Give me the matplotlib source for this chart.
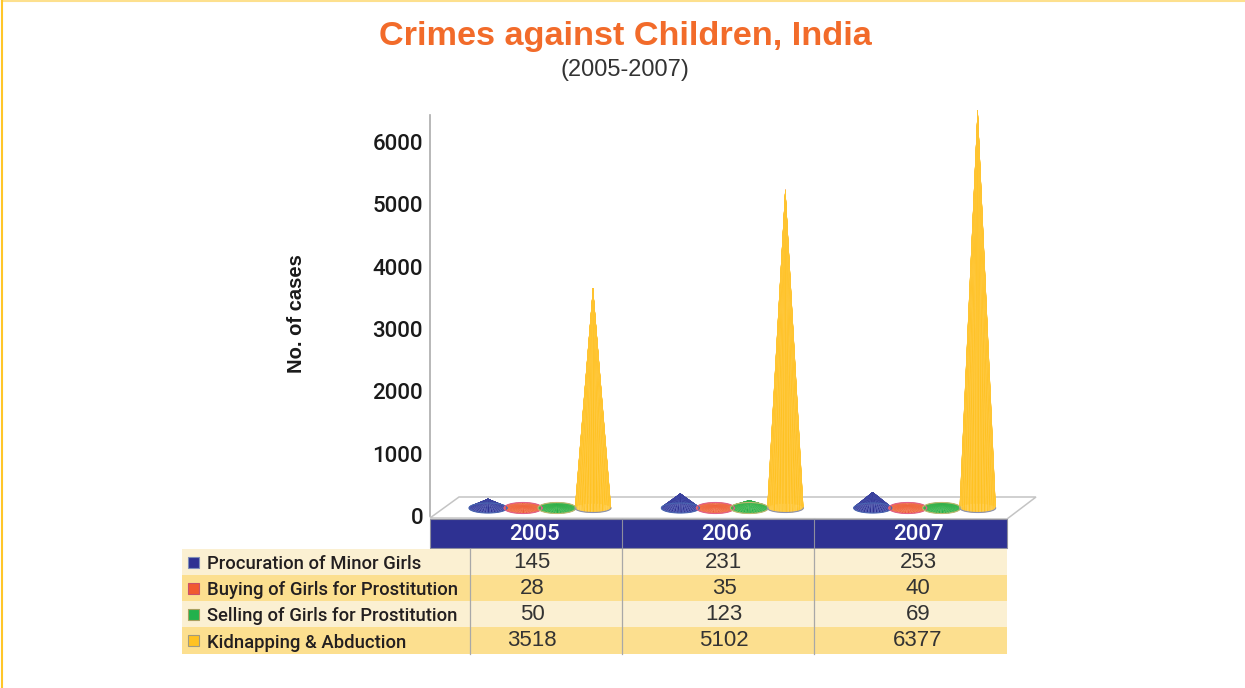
import numpy as np
import matplotlib
matplotlib.use('Agg')
import matplotlib.pyplot as plt
from matplotlib.patches import Polygon, Rectangle

years = ['2005', '2006', '2007']
series = ['Procuration of Minor Girls', 'Buying of Girls for Prostitution',
          'Selling of Girls for Prostitution', 'Kidnapping & Abduction']
procuration = [145, 231, 253]
buying = [28, 35, 40]
selling = [50, 123, 69]
kidnapping = [3518, 5102, 6377]
yticks = [0, 1000, 2000, 3000, 4000, 5000, 6000]

W, H = 1245, 688
plt.rcParams['font.family'] = ['Roboto', 'DejaVu Sans']
fig = plt.figure(figsize=(W / 100, H / 100), dpi=100)

# background layer in pixel coordinates, for page furniture and the table
bg = fig.add_axes([0, 0, 1, 1])
bg.set_xlim(0, W)
bg.set_ylim(H, 0)
bg.axis('off')
bg.plot([2, W], [1, 1], color='#FDE08E', lw=1.5)
bg.plot([2, 2], [1, H], color='#FFC629', lw=1.5)

bg.text(625, 37, 'Crimes against Children, India', color='#F26B2A', fontsize=24.7,
        fontweight='bold', ha='center', va='center', family='Liberation Sans')
bg.text(625, 70, '(2005-2007)', color='#333333', fontsize=17, ha='center',
        va='center', family='Liberation Sans')
bg.text(296, 314, 'No. of cases', color='#1a1a1a', fontsize=14.5, fontweight='bold',
        rotation=90, ha='center', va='center', family='Liberation Sans')

# floor of the 3D chart
bg.add_patch(Polygon([(430, 518), (459, 497), (1036, 497), (1007, 519)], closed=True,
                     fc='white', ec='#C4C4C4', lw=1.1))

# table
col_edges = [470, 622, 814, 1007]
col_mid = [532, 724, 918]
head_mid = [534, 726, 918]
row_top = [549, 575, 601, 627]
row_h = [26, 26, 26, 27]
row_bg = ['#FBF0D2', '#FCDF8F', '#FBF0D2', '#FCDF8F']
swatch = ['#2E3192', '#F15A30', '#22B14C', '#FFC222']
swatch_edge = ['#7F8FB8', '#C9506A', '#A8A060', '#A09A80']
rows = [procuration, buying, selling, kidnapping]

bg.add_patch(Rectangle((430, 519), 577, 29, fc='#2E3192', ec='#8E8E9E', lw=0.8))
for i, y in enumerate(years):
    bg.text(head_mid[i], 534.5, y, color='white', fontsize=16, fontweight='medium',
            ha='center', va='center')
for x in col_edges[1:3]:
    bg.plot([x, x], [519, 548], color='#8E8E9E', lw=0.8)
for r, name in enumerate(series):
    bg.add_patch(Rectangle((182, row_top[r]), 825, row_h[r], fc=row_bg[r], ec='none'))
    mid = row_top[r] + row_h[r] / 2
    bg.add_patch(Rectangle((187.5, mid - 5.5), 11, 11, fc=swatch[r], ec=swatch_edge[r], lw=0.8))
    bg.text(207, mid + 2, name, color='#231F20', fontsize=13.3, fontweight='medium',
            ha='left', va='center')
    for c, v in enumerate(rows[r]):
        bg.text(col_mid[c], mid + 0.5, str(v), color='#333333', fontsize=16,
                ha='center', va='center', family='Liberation Sans')
for x in col_edges[:3]:
    bg.plot([x, x], [549, 654], color='#A8A8A8', lw=0.9)

# chart axes: x is the category number, y is the number of cases
top_px, zero_px = 115, 516
units_per_px = 6000 / 374
ax = fig.add_axes([430 / W, 1 - zero_px / H, 577 / W, (zero_px - top_px) / H])
ax.patch.set_alpha(0)
ax.set_xlim(0, 3)
ax.set_ylim(0, (zero_px - top_px) * units_per_px)
ax.set_yticks(yticks)
ax.set_xticks([])
ax.tick_params(axis='y', length=0, pad=5, labelsize=16, labelcolor='#1a1a1a')
for s in ['top', 'right', 'bottom']:
    ax.spines[s].set_visible(False)
ax.spines['left'].set_color('#ABABAB')
ax.spines['left'].set_linewidth(1.2)
for lab in ax.get_yticklabels():
    lab.set_fontweight('medium')

px_x = 1 / (577 / 3)
base_y = 8 * units_per_px
slots = [58, 93, 127, 163]
half_w = [19, 19, 19, 18]
half_h = [5, 5.5, 5.5, 4.5]
shades = [('#2E3192', '#4F5AB2'), ('#F15A3A', '#EE7A4A'), ('#22B04A', '#4DB850'), ('#FFC222', '#FFCB45')]
outline = ['#4A66B0', '#E0608A', '#C0B870', '#8A92B0']


def draw_cone(cat, slot, value):
    cx = cat + slots[slot] * px_x
    a = half_w[slot] * px_x
    b = half_h[slot] * units_per_px
    apex = (cx, base_y + value)
    t = np.linspace(np.pi, 3 * np.pi, 73)
    order = np.argsort(-np.sin(t[:-1]))
    for k in order:
        p1 = (cx + a * np.cos(t[k]), base_y + b * np.sin(t[k]))
        p2 = (cx + a * np.cos(t[k + 1]), base_y + b * np.sin(t[k + 1]))
        col = shades[slot][k % 2]
        ax.add_patch(Polygon([apex, p1, p2], closed=True, fc=col, ec=col, lw=0.2, clip_on=False))
    # rim of the base: only the front is seen on the tall cones
    if slot == 3:
        tf = np.linspace(np.pi, 2 * np.pi, 40)
    else:
        tf = np.linspace(0, 2 * np.pi, 80)
    ax.plot(cx + a * np.cos(tf), base_y + b * np.sin(tf), color=outline[slot], lw=0.8,
            clip_on=False)


for slot, vals in enumerate(rows):
    for cat, v in enumerate(vals):
        draw_cone(cat, slot, v)

fig.savefig('out.png', dpi=100)
